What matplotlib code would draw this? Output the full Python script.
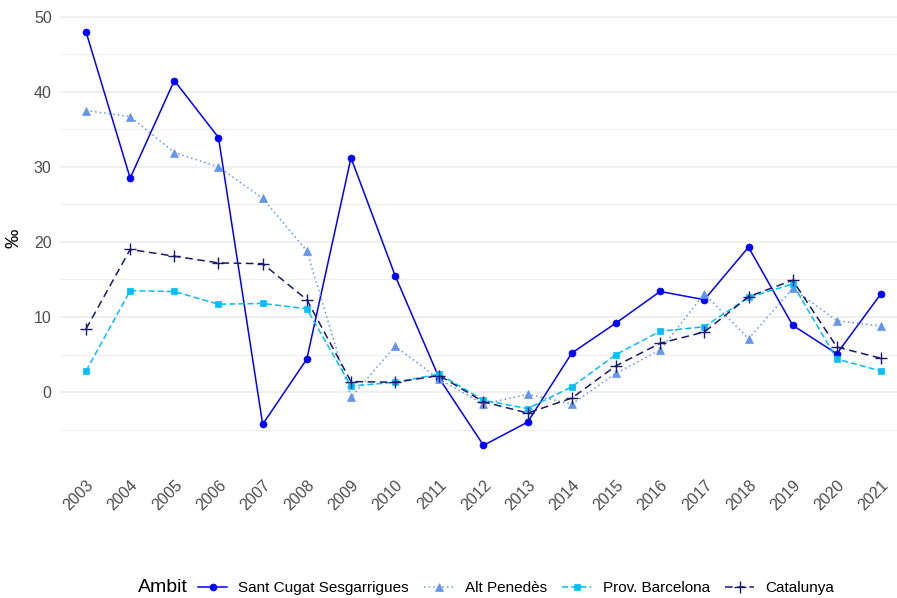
import numpy as np
import matplotlib.pyplot as plt
from matplotlib.lines import Line2D

plt.rcParams['font.family'] = ['Liberation Sans', 'DejaVu Sans']

years = list(range(2003, 2022))

sant_cugat = [48.0, 28.5, 41.5, 33.9, -4.3, 4.4, 31.2, 15.5, 1.8, -7.1,
              -4.0, 5.2, 9.2, 13.4, 12.3, 19.3, 8.9, 5.1, 13.1]
alt_penedes = [37.5, 36.7, 31.9, 30.0, 25.8, 18.8, -0.7, 6.1, 1.7, -1.6,
               -0.3, -1.6, 2.5, 5.6, 13.1, 7.1, 13.8, 9.5, 8.8]
prov_bcn = [2.8, 13.5, 13.4, 11.7, 11.8, 11.1, 0.8, 1.3, 2.4, -1.1,
            -2.2, 0.7, 5.0, 8.1, 8.7, 12.6, 14.4, 4.4, 2.8]
catalunya = [8.4, 19.0, 18.1, 17.2, 17.1, 12.3, 1.4, 1.3, 2.2, -1.3,
             -2.8, -0.8, 3.5, 6.5, 8.0, 12.7, 14.9, 6.0, 4.5]

names = ['Sant Cugat Sesgarrigues', 'Alt Penedès', 'Prov. Barcelona', 'Catalunya']
series = [sant_cugat, alt_penedes, prov_bcn, catalunya]
colors = ['#0000FF', '#6495ED', '#00BFFF', '#191970']
styles = ['-', (0, (1, 2)), (0, (4, 2)), (0, (5, 3))]
markers = ['o', '^', 's', '+']
msizes = [5, 6, 5, 9]

fig = plt.figure(figsize=(8.97, 5.98), dpi=100)
ax = fig.add_axes([60 / 897, 1 - 466 / 598, 1 - 60 / 897, (466 - 11) / 598])

handles = []
for vals, name, c, ls, m, ms in zip(series, names, colors, styles, markers, msizes):
    ln, = ax.plot(years, vals, color=c, linestyle=ls, linewidth=1.1, marker=m,
                  markersize=ms, markeredgewidth=1.0 if m == '+' else 0.5,
                  label=name)
    handles.append(ln)

ax.set_xlim(2003 - 26 / 44.17, 2021 + 16 / 44.17)
ax.set_ylim(-9.85, 50.76)
ax.set_yticks([0, 10, 20, 30, 40, 50])
ax.set_yticks([-5, 5, 15, 25, 35, 45], minor=True)
ax.set_xticks(years)
ax.set_xticklabels([str(y) for y in years], rotation=45, ha='right', va='top',
                   rotation_mode='anchor')
ax.grid(axis='y', which='major', color='#EBEBEB', linewidth=1.1)
ax.grid(axis='y', which='minor', color='#EBEBEB', linewidth=0.6)
ax.set_axisbelow(True)
ax.tick_params(axis='both', which='both', length=0, labelsize=11.5,
               labelcolor='#4D4D4D')
ax.tick_params(axis='x', pad=8)
ax.tick_params(axis='y', pad=6)
for s in ax.spines.values():
    s.set_visible(False)
ax.set_ylabel('‰', fontsize=14, labelpad=8)

# legend at the bottom, title on the left
fig.text(138 / 897, 1 - 588 / 598, 'Ambit', fontsize=14, ha='left', va='center')
fig.legend(handles, names, loc='center left',
           bbox_to_anchor=(198 / 897, 1 - 588 / 598), ncol=4, frameon=False,
           fontsize=11, handlelength=1.9, columnspacing=1.0,
           handletextpad=0.75, borderpad=0, borderaxespad=0)

fig.savefig('out.png', dpi=100)
